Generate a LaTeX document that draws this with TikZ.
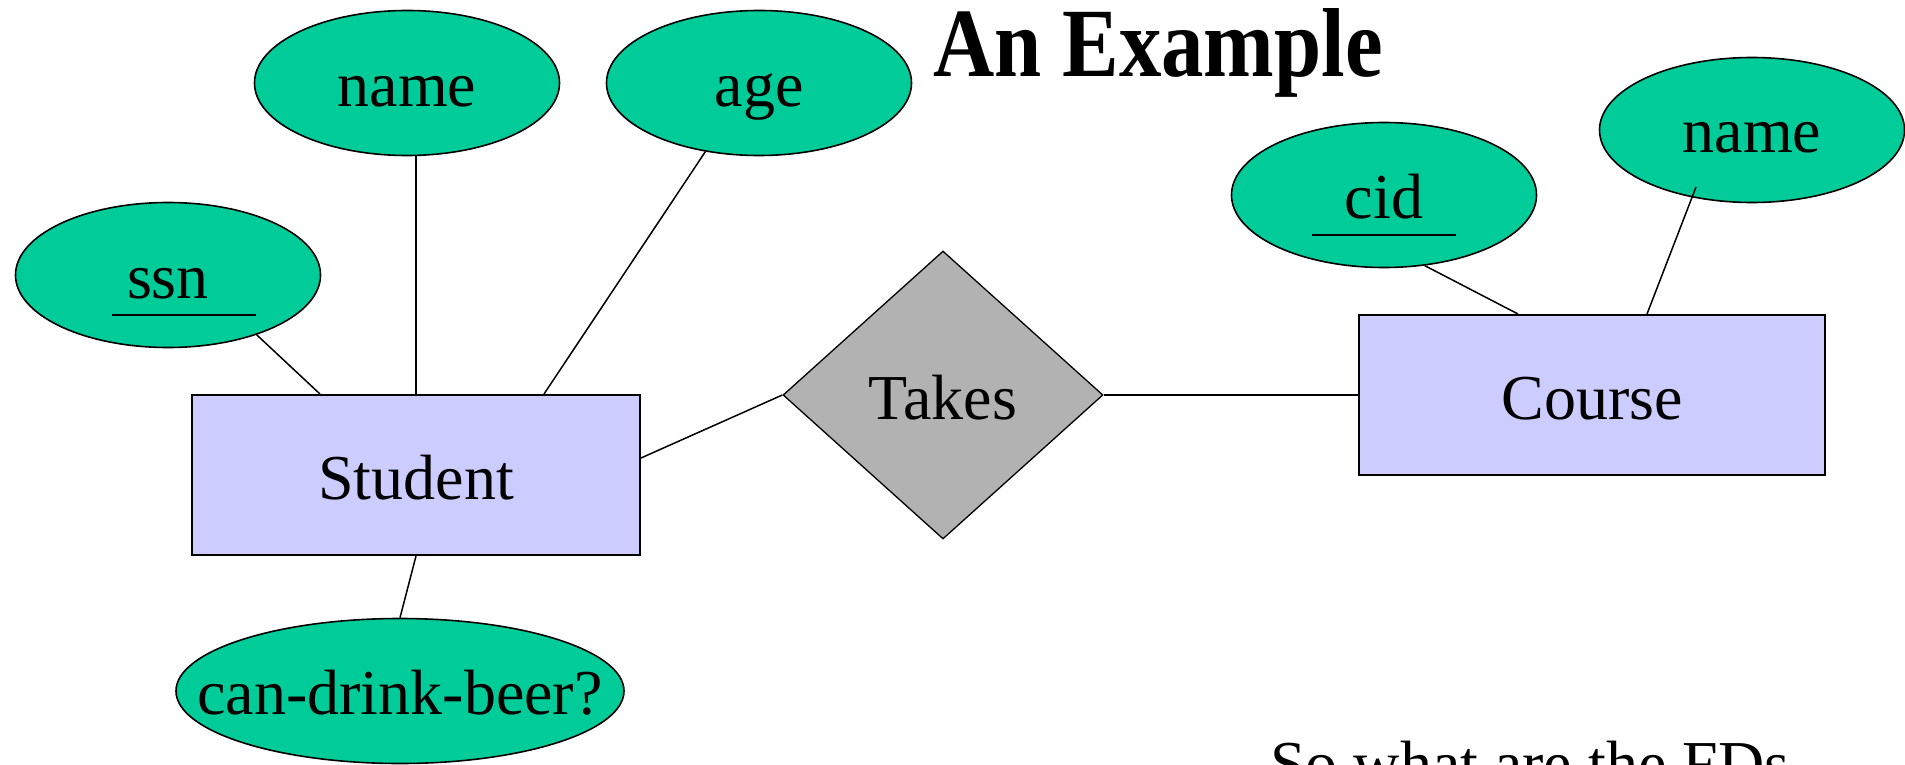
\documentclass[tikz,border=0pt]{standalone}
\usepackage{fontspec}
\usepackage{graphicx}
\setmainfont{Liberation Serif}
\usetikzlibrary{shapes.geometric,calc}

\definecolor{attrgreen}{HTML}{00CC99}
\definecolor{entblue}{HTML}{CCCCFF}
\definecolor{relgray}{HTML}{B2B2B2}

\tikzset{
  attr/.style={ellipse, draw=black, line width=1.6pt, fill=attrgreen,
               minimum width=305, minimum height=145, inner sep=0pt},
  ent/.style={rectangle, draw=black, line width=2pt, fill=entblue,
              minimum height=160, inner sep=0pt},
  rel/.style={diamond, draw=black, line width=1.3pt, fill=relgray,
              minimum width=320, minimum height=288, inner sep=0pt},
  txt/.style={anchor=base, inner sep=0pt, font=\fontsize{64}{72}\selectfont},
  link/.style={draw=black, line width=1.5pt},
  keyline/.style={draw=black, line width=2pt},
}

\begin{document}
\begin{tikzpicture}[x=1pt,y=1pt]
  \useasboundingbox (0,0) rectangle (1905,-765);

  % entities and relationship
  \node[ent, minimum width=448] (student) at (416,-475) {};
  \node[ent, minimum width=466] (course) at (1592,-395) {};
  \node[rel] (takes) at (943,-395) {};

  % attributes
  \node[attr] (ssn) at (168,-275) {};
  \node[attr] (sname) at (407,-83) {};
  \node[attr] (age) at (759,-83) {};
  \node[attr, minimum width=448] (beer) at (400,-691) {};
  \node[attr] (cid) at (1384,-195) {};
  \node[attr] (cname) at (1752,-130) {};

  % labels
  \node[txt] (studentT) at ([yshift=-24]student.center) {Student};
  \node[txt] (courseT) at ([yshift=-24]course.center) {Course};
  \node[txt] (takesT) at ([yshift=-24]takes.center) {Takes};
  \node[txt] (ssnT) at ([yshift=-23]ssn.center) {ssn};
  \node[txt] (snameT) at ([yshift=-24]sname.center) {name};
  \node[txt] (ageT) at ([yshift=-24]age.center) {age};
  \node[txt] (beerT) at ([yshift=-23]beer.center) {can-drink-beer?};
  \node[txt] (cidT) at ([yshift=-23]cid.center) {cid};
  \node[txt] (cnameT) at ([yshift=-23]cname.center) {name};

  % key attributes are underlined
  \draw[keyline] ($(ssn.center)+(-56,-40)$) -- ($(ssn.center)+(88,-40)$);
  \draw[keyline] ($(cid.center)+(-72,-40)$) -- ($(cid.center)+(72,-40)$);

  % connectors
  \draw[link] (ssn.-34) -- ([xshift=-96]student.north);
  \draw[link] (student.north) -- (student.north |- sname.south);
  \draw[link] (age.-128) -- ([xshift=128]student.north);
  \draw[link] (student.south) -- (beer.north);
  \draw[link] ([yshift=17]student.east) -- (takes.west);
  \draw[link] (takes.east) -- (course.west);
  \draw[link] (cid.-60) -- ([xshift=-74]course.north);
  \draw[link] ($(cname.center)+(-56,-57)$) -- ([xshift=55]course.north);

  % heading and note
  \node[anchor=base, inner sep=0pt, font=\fontsize{98}{110}\selectfont\bfseries]
    (title) at (1158,-77) {\scalebox{0.865}[1]{An Example}};
  \node[anchor=base west, inner sep=0pt, font=\fontsize{64}{72}\selectfont]
    (note) at (1270,-785) {So what are the FDs};
\end{tikzpicture}
\end{document}
